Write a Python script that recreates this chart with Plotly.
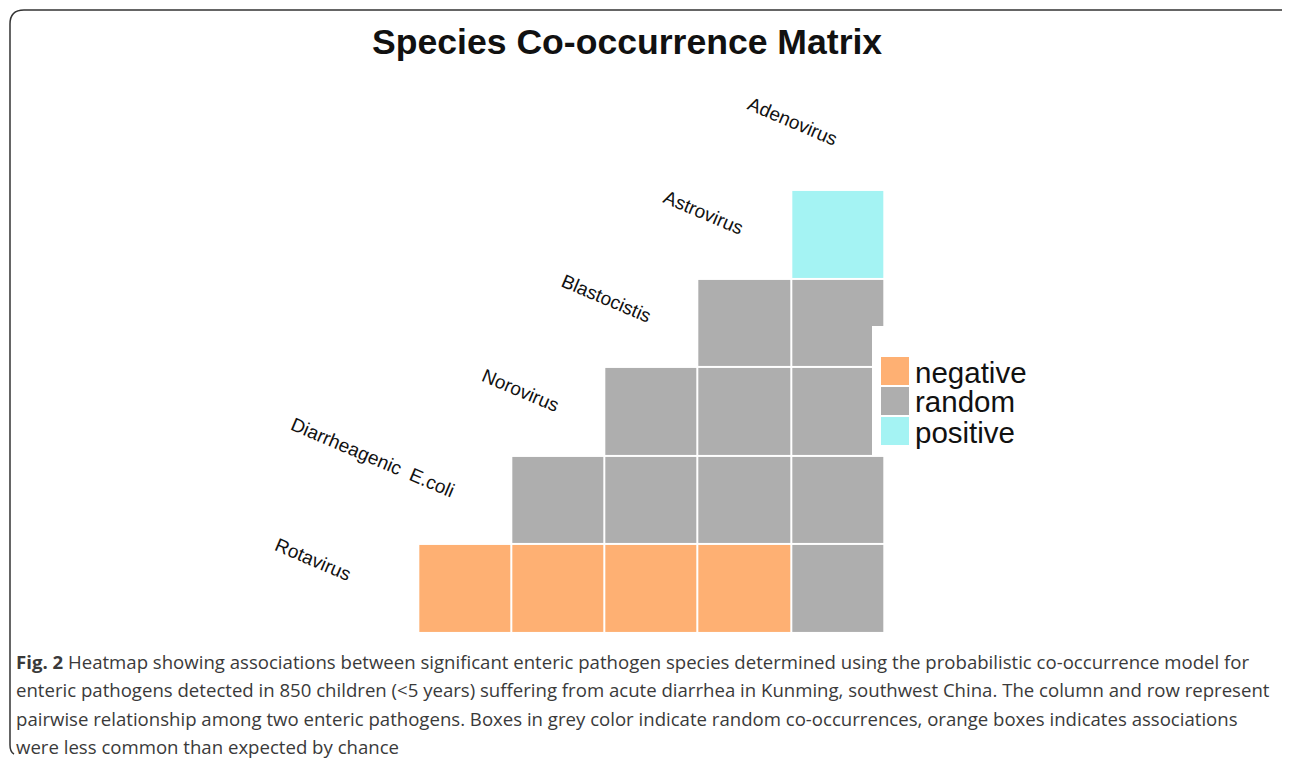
import plotly.graph_objects as go

# ---------------- data ----------------
row_species = ["Rotavirus", "Diarrheagenic E.coli", "Norovirus", "Blastocistis", "Astrovirus"]
col_species = ["Diarrheagenic E.coli", "Norovirus", "Blastocistis", "Astrovirus", "Adenovirus"]
diag_labels = ["Rotavirus", "Diarrheagenic  E.coli", "Norovirus", "Blastocistis", "Astrovirus", "Adenovirus"]
categories = ["negative", "random", "positive"]
# 0 = negative, 1 = random, 2 = positive, None = no pair
assoc = [
    [0, 0, 0, 0, 1],
    [None, 1, 1, 1, 1],
    [None, None, 1, 1, 1],
    [None, None, None, 1, 1],
    [None, None, None, None, 2],
]
cat_colors = ["#FEB073", "#AEAEAE", "#A4F3F3"]
title_text = "Species Co-occurrence Matrix"
caption_lines = [
    "<b>Fig. 2</b> Heatmap showing associations between significant enteric pathogen species determined using the probabilistic co-occurrence model for",
    "enteric pathogens detected in 850 children (&lt;5 years) suffering from acute diarrhea in Kunming, southwest China. The column and row represent",
    "pairwise relationship among two enteric pathogens. Boxes in grey color indicate random co-occurrences, orange boxes indicates associations",
    "were less common than expected by chance",
]
# label centre positions (data units) along the diagonal
label_pos = [(-1.63, 0.33), (-0.99, 1.48), (0.60, 2.24), (1.52, 3.28), (2.56, 4.24), (3.52, 5.27)]

# ---------------- layout geometry ----------------
OFF = 8  # page body margin
W, H = 1282, 751
ML, MR, MT, MB = 224, 406, 49, 126
PW, PH = W - ML - MR, H - MT - MB


def px(x):
    return (x - OFF - ML) / PW


def py(y):
    return (H - MB - (y - OFF)) / PH


cs = [[0, cat_colors[0]], [1 / 3, cat_colors[0]], [1 / 3, cat_colors[1]],
      [2 / 3, cat_colors[1]], [2 / 3, cat_colors[2]], [1, cat_colors[2]]]

fig = go.Figure()
fig.add_trace(go.Heatmap(
    z=assoc, x=list(range(len(col_species))), y=list(range(len(row_species))),
    zmin=0, zmax=2, colorscale=cs, showscale=False, xgap=2, ygap=2,
    hoverinfo="skip",
))

annotations = []
for (lx, ly), name in zip(label_pos, diag_labels):
    annotations.append(dict(x=lx, y=ly, xref="x", yref="y", text=name, showarrow=False,
                            textangle=23, font=dict(family="Liberation Sans, Arial", size=19, color="#111111"),
                            xanchor="center", yanchor="middle"))

annotations.append(dict(x=px(627), y=py(42), xref="paper", yref="paper", text="<b>%s</b>" % title_text,
                        showarrow=False, xanchor="center", yanchor="middle",
                        font=dict(family="Liberation Sans, Arial", size=35.6, color="#111111")))

shapes = []
# white notch behind legend
shapes.append(dict(type="rect", xref="paper", yref="paper", x0=px(872), x1=px(886), y0=py(455), y1=py(326),
                   fillcolor="white", line=dict(width=0), layer="above"))
# legend
for i, (cat, col) in enumerate(zip(categories, cat_colors)):
    top = 357 + i * 30
    shapes.append(dict(type="rect", xref="paper", yref="paper", x0=px(881), x1=px(909),
                       y0=py(top + 28), y1=py(top), fillcolor=col, line=dict(width=0), layer="above"))
    annotations.append(dict(x=px(913), y=py(top + 15), xref="paper", yref="paper", text=cat, showarrow=False,
                            xanchor="left", yanchor="middle",
                            font=dict(family="Liberation Sans, Arial", size=29.5, color="#111111")))

# caption
for i, line in enumerate(caption_lines):
    annotations.append(dict(x=px(14), y=py(661 + i * 28.5), xref="paper", yref="paper", text=line,
                            showarrow=False, xanchor="left", yanchor="middle",
                            font=dict(family="Open Sans", size=18.6, color="#3a3a3a")))

# frame (top and left, rounded corners)
fp = "M %f,%f Q %f,%f %f,%f L %f,%f Q %f,%f %f,%f L %f,%f Q %f,%f %f,%f" % (
    px(14), py(754), px(10), py(752), px(10), py(745),
    px(10), py(24), px(10), py(10), px(24), py(10),
    px(1283), py(10), px(1288), py(10), px(1290), py(14))
shapes.append(dict(type="path", xref="paper", yref="paper", path=fp,
                   line=dict(color="#333333", width=1.5)))

fig.update_layout(
    width=W, height=H, margin=dict(l=ML, r=MR, t=MT, b=MB),
    paper_bgcolor="white", plot_bgcolor="white",
    xaxis=dict(range=[-2.5, 4.5], visible=False, fixedrange=True),
    yaxis=dict(range=[-0.5, 6.0], visible=False, fixedrange=True),
    annotations=annotations, shapes=shapes, showlegend=False,
)
fig.write_html("out.html", config={"displayModeBar": False})
